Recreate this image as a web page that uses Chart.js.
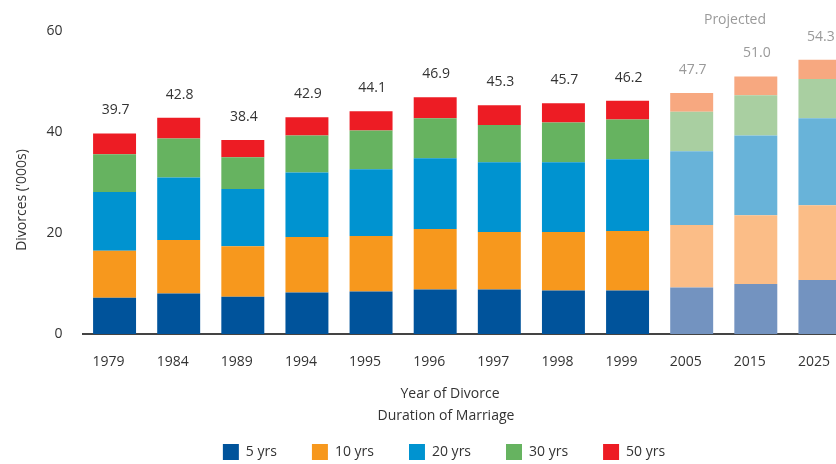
<!DOCTYPE html>
<html>
<head>
<meta charset="utf-8">
<title>Divorces by duration of marriage</title>
<script src="https://cdn.jsdelivr.net/npm/chart.js@4/dist/chart.umd.min.js"></script>
<style>
  html, body { margin: 0; padding: 0; background: #fff; overflow: hidden; }
  #wrap { position: absolute; left: 0; top: 0; }
</style>
</head>
<body>
<div id="wrap">
  <canvas id="divorce-chart" width="860" height="470"></canvas>
</div>
<script>
// Chart data (thousands of divorces)
const years = ['1979', '1984', '1989', '1994', '1995', '1996', '1997', '1998', '1999', '2005', '2015', '2025'];
const totals = [39.7, 42.8, 38.4, 42.9, 44.1, 46.9, 45.3, 45.7, 46.2, 47.7, 51.0, 54.3];
const yrs5  = [7.2, 8.0, 7.4, 8.2, 8.4, 8.8, 8.8, 8.6, 8.6, 9.2, 9.9, 10.7];
const yrs10 = [9.3, 10.6, 10.0, 11.0, 11.0, 12.0, 11.4, 11.6, 11.8, 12.4, 13.6, 14.8];
const yrs20 = [11.6, 12.4, 11.3, 12.8, 13.2, 14.0, 13.8, 13.8, 14.2, 14.6, 15.8, 17.2];
const yrs30 = [7.5, 7.7, 6.3, 7.3, 7.7, 7.9, 7.4, 7.9, 7.9, 7.8, 8.0, 7.8];
const yrs50 = [4.1, 4.1, 3.4, 3.6, 3.8, 4.2, 3.9, 3.8, 3.7, 3.7, 3.7, 3.8];
const yTicks = [0, 20, 40, 60];
const firstProjected = 9;

const FONT = "'Open Sans', sans-serif";
const SIZE = 14;

// solid colour for actual years, lighter colour for projections
function shade(dark, light) {
    return ctx => (ctx.dataIndex >= firstProjected ? light : dark);
}

// totals, "Projected" note and axis titles
const labelsPlugin = {
    id: 'labelsPlugin',
    afterDatasetsDraw(chart) {
        const ctx = chart.ctx;
        const x = chart.scales.x;
        const y = chart.scales.y;
        ctx.save();
        ctx.font = SIZE + 'px ' + FONT;
        ctx.textAlign = 'center';
        ctx.textBaseline = 'middle';
        totals.forEach((t, i) => {
            ctx.fillStyle = i >= firstProjected ? '#9a9a9a' : '#333';
            ctx.fillText(t.toFixed(1), x.getPixelForValue(i) + 1, y.getPixelForValue(t) - 23);
        });
        ctx.fillStyle = '#9a9a9a';
        ctx.fillText('Projected', 735, 20);

        ctx.fillStyle = '#333';
        ctx.fillText('Year of Divorce', 450, 394);
        ctx.fillText('Duration of Marriage', 446, 416);

        ctx.translate(22, 200);
        ctx.rotate(-Math.PI / 2);
        ctx.fillText("Divorces ('000s)", 0, 0);
        ctx.restore();
    }
};

const ctx = document.getElementById('divorce-chart').getContext('2d');
const divorceChart = new Chart(ctx, {
    type: 'bar',
    data: {
        labels: years,
        datasets: [
            { label: '5 yrs',  data: yrs5,  backgroundColor: shade('#00539b', '#7393c0') },
            { label: '10 yrs', data: yrs10, backgroundColor: shade('#f7981d', '#fbbd87') },
            { label: '20 yrs', data: yrs20, backgroundColor: shade('#0093d0', '#68b3d9') },
            { label: '30 yrs', data: yrs30, backgroundColor: shade('#66b360', '#a9cfa1') },
            { label: '50 yrs', data: yrs50, backgroundColor: shade('#ed1c24', '#f7a880') }
        ]
    },
    options: {
        responsive: false,
        animation: false,
        devicePixelRatio: 1,
        layout: { padding: { left: 36, right: 8, top: 31, bottom: 0 } },
        datasets: {
            bar: { barPercentage: 0.67, categoryPercentage: 1, borderWidth: 0 }
        },
        plugins: {
            tooltip: { enabled: false },
            legend: {
                position: 'bottom',
                labels: {
                    boxWidth: 16,
                    boxHeight: 16,
                    padding: 35,
                    color: '#333',
                    font: { family: FONT, size: SIZE }
                }
            }
        },
        scales: {
            x: {
                stacked: true,
                grid: { display: false, drawTicks: false },
                border: { display: true, color: '#444', width: 2 },
                ticks: {
                    color: '#333',
                    padding: 20,
                    labelOffset: -6,
                    maxRotation: 0,
                    font: { family: FONT, size: SIZE }
                },
                afterFit(scale) { scale.height = 75; }
            },
            y: {
                stacked: true,
                min: 0,
                max: 60,
                grid: { display: false, drawTicks: false },
                border: { display: false },
                afterBuildTicks(scale) { scale.ticks = yTicks.map(v => ({ value: v })); },
                ticks: {
                    color: '#333',
                    padding: 20,
                    font: { family: FONT, size: SIZE }
                },
                afterFit(scale) { scale.width = 46.5; }
            }
        }
    },
    plugins: [labelsPlugin]
});
</script>
</body>
</html>
